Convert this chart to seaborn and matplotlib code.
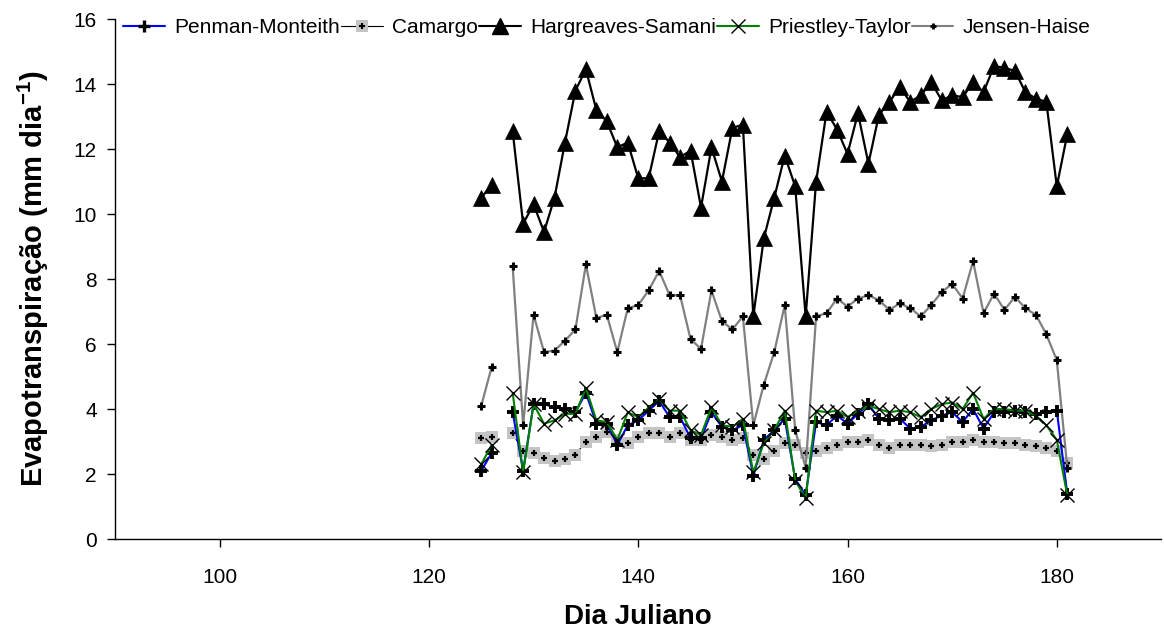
import numpy as np
import pandas as pd
import seaborn as sns
import matplotlib
matplotlib.use("Agg")
import matplotlib.pyplot as plt
from matplotlib.lines import Line2D

# Julian days (day 127 has no record)
days = [125, 126, 128, 129, 130, 131, 132, 133, 134, 135, 136, 137, 138, 139,
        140, 141, 142, 143, 144, 145, 146, 147, 148, 149, 150, 151, 152, 153,
        154, 155, 156, 157, 158, 159, 160, 161, 162, 163, 164, 165, 166, 167,
        168, 169, 170, 171, 172, 173, 174, 175, 176, 177, 178, 179, 180, 181]

penman_monteith = [2.10, 2.65, 3.90, 2.10, 4.15, 4.15, 4.05, 4.00, 3.90, 4.50,
                   3.55, 3.55, 2.90, 3.50, 3.65, 3.95, 4.25, 3.75, 3.75, 3.10,
                   3.10, 3.90, 3.45, 3.35, 3.50, 1.95, 3.05, 3.35, 3.70, 1.85,
                   1.35, 3.60, 3.50, 3.80, 3.55, 3.85, 4.15, 3.70, 3.65, 3.70,
                   3.40, 3.45, 3.65, 3.80, 3.90, 3.60, 4.00, 3.40, 3.90, 3.90,
                   3.95, 3.90, 3.85, 3.90, 3.95, 1.40]

camargo = [3.10, 3.15, 3.25, 2.70, 2.65, 2.50, 2.40, 2.45, 2.60, 3.00,
           3.15, 3.30, 3.05, 2.95, 3.15, 3.25, 3.25, 3.15, 3.25, 3.05,
           3.05, 3.20, 3.15, 3.05, 3.10, 2.60, 2.45, 2.70, 2.95, 2.90,
           2.65, 2.70, 2.80, 2.90, 3.00, 3.00, 3.05, 2.90, 2.80, 2.90,
           2.90, 2.90, 2.85, 2.90, 3.00, 3.00, 3.05, 3.00, 3.00, 2.95,
           2.95, 2.90, 2.85, 2.80, 2.70, 2.35]

hargreaves_samani = [10.50, 10.90, 12.55, 9.70, 10.30, 9.45, 10.50, 12.20, 13.80, 14.45,
                     13.20, 12.85, 12.05, 12.20, 11.10, 11.10, 12.55, 12.20, 11.75, 11.95,
                     10.20, 12.05, 11.00, 12.65, 12.75, 6.85, 9.25, 10.50, 11.80, 10.85,
                     6.85, 11.00, 13.15, 12.60, 11.85, 13.10, 11.55, 13.05, 13.45, 13.90,
                     13.45, 13.65, 14.05, 13.50, 13.65, 13.60, 14.05, 13.75, 14.55, 14.50,
                     14.40, 13.75, 13.55, 13.45, 10.85, 12.45]

priestley_taylor = [2.30, 2.90, 4.50, 2.05, 4.15, 3.55, 3.65, 3.85, 3.85, 4.65,
                    3.65, 3.60, 3.05, 3.90, 3.75, 4.05, 4.30, 3.95, 3.95, 3.35,
                    3.20, 4.05, 3.50, 3.45, 3.70, 2.05, 2.95, 3.35, 3.95, 1.80,
                    1.25, 3.95, 3.90, 3.95, 3.75, 3.95, 4.10, 4.00, 3.90, 3.95,
                    3.90, 3.75, 4.00, 4.15, 4.20, 4.00, 4.50, 3.70, 4.00, 4.00,
                    3.95, 3.95, 3.80, 3.50, 3.05, 1.35]

jensen_haise = [4.10, 5.30, 8.40, 3.50, 6.90, 5.75, 5.80, 6.10, 6.45, 8.45,
                6.80, 6.90, 5.75, 7.10, 7.20, 7.65, 8.25, 7.50, 7.50, 6.15,
                5.85, 7.65, 6.70, 6.45, 6.85, 3.50, 4.75, 5.75, 7.20, 3.35,
                2.20, 6.85, 6.95, 7.40, 7.15, 7.40, 7.50, 7.35, 7.05, 7.25,
                7.10, 6.85, 7.20, 7.60, 7.85, 7.40, 8.55, 6.95, 7.55, 7.05,
                7.45, 7.10, 6.90, 6.30, 5.50, 2.20]

method_names = ["Penman-Monteith", "Camargo", "Hargreaves-Samani",
                "Priestley-Taylor", "Jensen-Haise"]

x_ticks = [100, 120, 140, 160, 180]
y_ticks = [0, 2, 4, 6, 8, 10, 12, 14, 16]

# segment id: the missing day breaks every line in two pieces
segment = [0 if d < 127 else 1 for d in days]

df = pd.DataFrame({
    "dia": days,
    "seg": segment,
    "Penman-Monteith": penman_monteith,
    "Camargo": camargo,
    "Hargreaves-Samani": hargreaves_samani,
    "Priestley-Taylor": priestley_taylor,
    "Jensen-Haise": jensen_haise,
})

sns.set_style("ticks")
plt.rcParams["font.family"] = ["Liberation Sans", "DejaVu Sans"]
plt.rcParams["mathtext.fontset"] = "custom"
plt.rcParams["mathtext.bf"] = "Liberation Sans:bold"
plt.rcParams["mathtext.rm"] = "Liberation Sans"
plt.rcParams["text.color"] = "black"
plt.rcParams["axes.labelcolor"] = "black"

fig = plt.figure(figsize=(11.64, 6.42), dpi=100)
ax = fig.add_axes([0.0988, 0.1604, 0.899, 0.81])

styles = {
    "Camargo": dict(color="black", lw=0.8, marker="s", ms=9,
                    mfc="#c4c4c4", mec="#c4c4c4", mew=0, zorder=2),
    "Jensen-Haise": dict(color="#808080", lw=1.6, marker="+", ms=6,
                         mfc="black", mec="black", mew=2.2, zorder=3),
    "Hargreaves-Samani": dict(color="black", lw=1.6, marker="^", ms=12,
                              mfc="black", mec="black", mew=0.5, zorder=3),
    "Penman-Monteith": dict(color="#0000ff", lw=1.5, marker="P", ms=0.1,
                            mfc="black", mec="black", mew=0, zorder=4),
    "Priestley-Taylor": dict(color="#008000", lw=1.5, marker="x", ms=10,
                             mfc="black", mec="black", mew=1.0, zorder=5),
}

for name in ["Camargo", "Jensen-Haise", "Hargreaves-Samani",
             "Penman-Monteith", "Priestley-Taylor"]:
    st = styles[name]
    sns.lineplot(data=df, x="dia", y=name, units="seg", estimator=None,
                 ax=ax, color=st["color"], linewidth=st["lw"],
                 marker=st["marker"], markersize=st["ms"],
                 markerfacecolor=st["mfc"], markeredgecolor=st["mec"],
                 markeredgewidth=st["mew"], zorder=st["zorder"],
                 legend=False)

# bold black crosses of Penman-Monteith, drawn over the blue line
sns.scatterplot(data=df, x="dia", y="Penman-Monteith", ax=ax, marker="+",
                s=75, color="black", linewidths=2.8, zorder=4.5, legend=False)
# small black crosses inside the Camargo squares
sns.scatterplot(data=df, x="dia", y="Camargo", ax=ax, marker="+",
                s=20, color="black", linewidths=1.6, zorder=2.5, legend=False)

ax.set_xlim(90, 190)
ax.set_ylim(0, 16)
ax.set_xticks(x_ticks)
ax.set_yticks(y_ticks)
ax.tick_params(axis="both", direction="out", length=6, width=1,
               labelsize=15, colors="black")
ax.tick_params(axis="x", pad=15)
ax.tick_params(axis="y", pad=7)
for side in ["top", "right"]:
    ax.spines[side].set_visible(False)
for side in ["left", "bottom"]:
    ax.spines[side].set_linewidth(1.0)
    ax.spines[side].set_color("black")

ax.set_xlabel("Dia Juliano", fontsize=20, fontweight="bold", labelpad=12,
              color="black")
ax.set_ylabel("Evapotranspiração (mm dia$^{\\mathbf{-1}}$)", fontsize=21,
              fontweight="bold", labelpad=16, color="black")

# legend handles
h_pm = (Line2D([], [], color="#0000ff", lw=1.5),
        Line2D([], [], ls="", marker="+", ms=9, mec="black", mew=2.4))
h_cam = (Line2D([], [], color="black", lw=0.8, marker="s", ms=8,
                mfc="#c4c4c4", mec="#c4c4c4", mew=0),
         Line2D([], [], ls="", marker="+", ms=4, mec="black", mew=1.5))
h_hs = Line2D([], [], color="black", lw=1.5, marker="^", ms=11,
              mfc="black", mec="black")
h_pt = Line2D([], [], color="#008000", lw=1.5, marker="x", ms=10,
              mec="black", mew=1.0)
h_jh = Line2D([], [], color="#808080", lw=1.5, marker="+", ms=5,
              mec="black", mew=2.0)

leg = ax.legend([h_pm, h_cam, h_hs, h_pt, h_jh], method_names,
                loc="upper left", bbox_to_anchor=(0.0, 1.017), ncol=5,
                frameon=False, fontsize=15, handlelength=2.0,
                handletextpad=0.45, columnspacing=0.05, borderaxespad=0.0)
for txt in leg.get_texts():
    txt.set_color("black")

fig.savefig("out.png", dpi=100)
